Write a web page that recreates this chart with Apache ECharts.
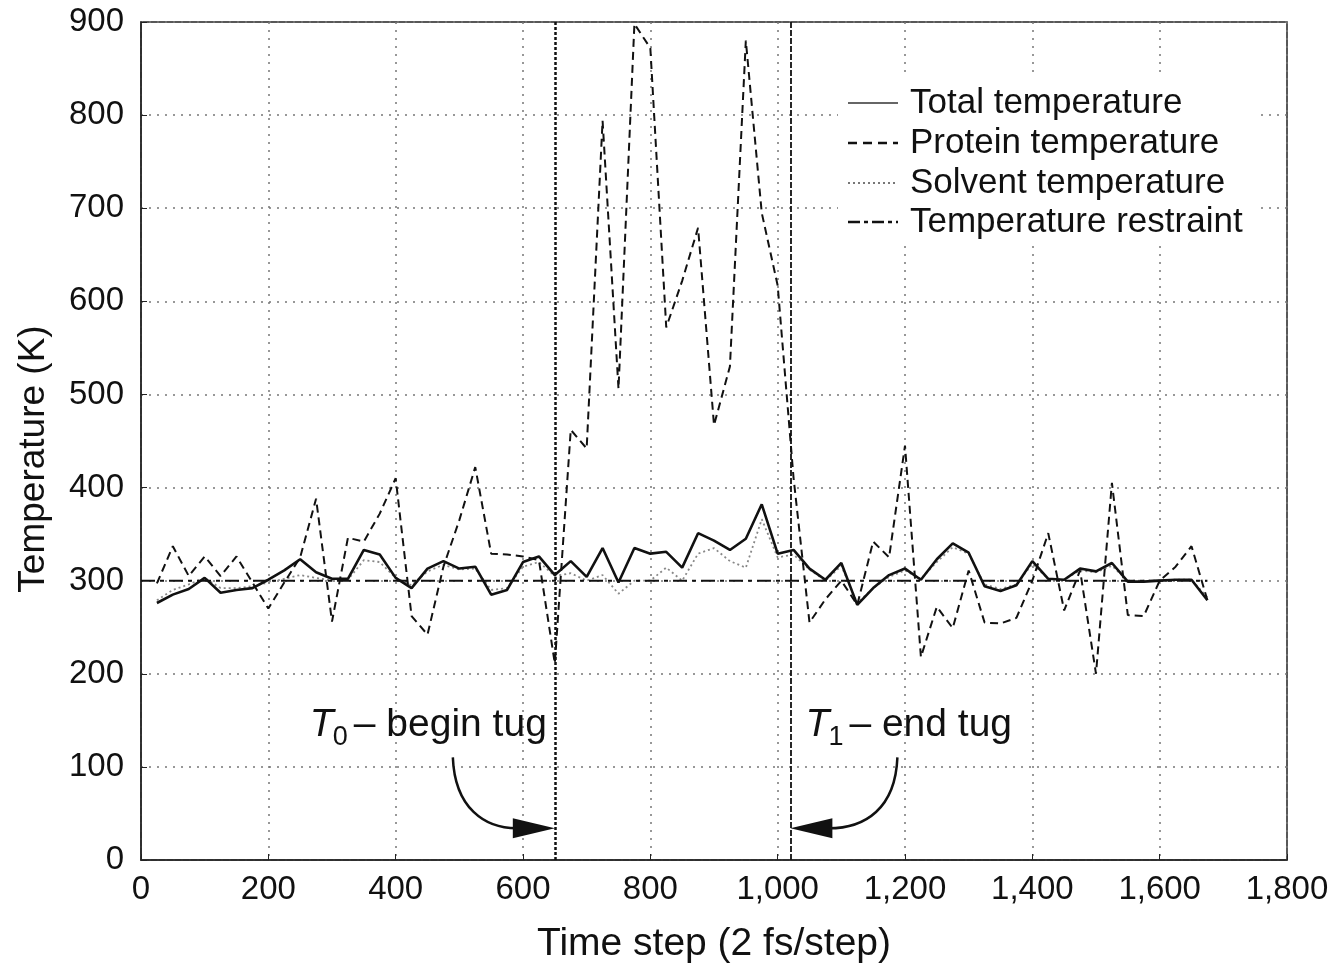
<!DOCTYPE html>
<html><head><meta charset="utf-8">
<script src="https://cdn.jsdelivr.net/npm/echarts@6/dist/echarts.min.js"></script>
<style>html,body{margin:0;padding:0;background:#fff}#c{width:1342px;height:974px}</style>
</head><body><div id="c"></div>
<script>
// ---- data ----
const steps = [25,50,75,100,125,150,175,200,225,250,275,300,325,350,375,400,425,450,475,500,525,550,575,600,625,650,
  675,700,725,750,775,800,825,850,875,900,925,950,975,1000,1025,1050,1075,1100,1125,1150,1175,1200,1225,1250,1275,1300,
  1325,1350,1375,1400,1425,1450,1475,1500,1525,1550,1575,1600,1625,1650,1675];
const totalTemp = [276,285,291,303,287,290,292,301,311,323,309,302,302,333,328,303,292,313,321,313,315,285,290,320,326,306,
  321,304,335,298,335,329,331,314,351,343,333,345,382,329,333,313,301,319,274,292,306,313,301,323,340,330,
  294,289,295,321,302,301,313,310,319,299,299,300,301,301,279];
const proteinTemp = [297,337,305,326,305,326,298,270,298,325,388,256,346,342,372,410,262,242,315,365,422,329,328,326,322,211,
  462,442,794,506,898,872,572,622,679,467,530,880,695,617,410,255,280,300,274,342,325,445,218,272,249,311,
  255,254,260,300,351,268,311,200,405,263,262,300,315,337,279];
const solventTemp = [279,290,296,303,292,292,294,298,302,306,303,300,301,322,320,303,295,310,317,312,313,290,292,315,320,305,
  308,300,306,286,300,300,314,300,329,335,321,314,366,325,328,312,300,316,276,292,304,311,302,320,336,329,
  296,291,296,318,302,301,311,309,316,300,300,300,301,301,282];
const restraintSteps = [0, 1675];
const restraintTemp = [300, 300];
const tugSteps = [650, 1020];
const seriesNames = ['Total temperature','Protein temperature','Solvent temperature','Temperature restraint'];

const pair = (xs, ys) => xs.map((x, i) => [x, ys[i]]);
const FONT = '"Liberation Sans", Arial, Helvetica, sans-serif';
const chart = echarts.init(document.getElementById('c'), null, {renderer: 'canvas'});

const gridLine = {show: true, lineStyle: {color: '#777', width: 1.5, type: [2, 6]}};
const option = {
  animation: false,
  backgroundColor: '#fff',
  textStyle: {fontFamily: FONT, color: '#111'},
  grid: {left: 141, right: 55, top: 22, bottom: 114, show: true, borderColor: '#222', borderWidth: 1.5, containLabel: false},
  xAxis: {
    type: 'value', min: 0, max: 1800, interval: 200,
    name: 'Time step (2 fs/step)', nameLocation: 'middle', nameGap: 65,
    nameTextStyle: {fontFamily: FONT, fontSize: 39, color: '#111'},
    axisLine: {show: true, lineStyle: {color: '#222', width: 1.5}},
    axisTick: {show: true, inside: true, length: 6, lineStyle: {color: '#222'}},
    axisLabel: {fontFamily: FONT, fontSize: 33, color: '#111', margin: 13,
      formatter: v => v.toLocaleString('en-US')},
    splitLine: gridLine
  },
  yAxis: {
    type: 'value', min: 0, max: 900, interval: 100,
    name: 'Temperature (K)', nameLocation: 'middle', nameGap: 89,
    nameTextStyle: {fontFamily: FONT, fontSize: 37, color: '#111', padding: [0, 36, 0, 0]},
    axisLine: {show: true, lineStyle: {color: '#222', width: 1.5}},
    axisTick: {show: true, inside: true, length: 6, lineStyle: {color: '#222'}},
    axisLabel: {fontFamily: FONT, fontSize: 33, color: '#111', margin: 17},
    splitLine: gridLine
  },
  series: [
    {name: seriesNames[2], type: 'line', data: pair(steps, solventTemp), showSymbol: false, z: 3,
      lineStyle: {color: '#888', width: 1.8, type: [2, 3]}},
    {name: seriesNames[3], type: 'line', data: pair(restraintSteps, restraintTemp), showSymbol: false, z: 3,
      lineStyle: {color: '#111', width: 2, type: [14, 5, 4, 5]}},
    {name: seriesNames[1], type: 'line', data: pair(steps, proteinTemp), showSymbol: false, z: 4,
      lineStyle: {color: '#111', width: 2, type: [8, 5]}},
    {name: seriesNames[0], type: 'line', data: pair(steps, totalTemp), showSymbol: false, z: 5,
      lineStyle: {color: '#111', width: 2.6, type: 'solid'},
      markLine: {silent: true, symbol: ['none', 'none'], label: {show: false},
        data: [
          {xAxis: tugSteps[0], lineStyle: {color: '#111', width: 2.5, type: [3, 2]}},
          {xAxis: tugSteps[1], lineStyle: {color: '#111', width: 1.8, type: [6, 2]}}
        ]}}
  ]
};
chart.setOption(option);

// ---- legend & annotations (graphic) ----
const legendStyles = [
  {stroke: '#333', lineWidth: 1.5, lineDash: null},
  {stroke: '#111', lineWidth: 2.5, lineDash: [9, 6]},
  {stroke: '#777', lineWidth: 1.8, lineDash: [2, 3]},
  {stroke: '#111', lineWidth: 2.5, lineDash: [12, 4, 4, 4]}
];
const legendRows = [103, 143, 183, 222];
const g = [];
g.push({type: 'rect', shape: {x: 838, y: 78, width: 420, height: 166}, style: {fill: '#fff'}, z: 50, silent: true});
seriesNames.forEach((n, i) => {
  g.push({type: 'line', shape: {x1: 848, y1: legendRows[i], x2: 898, y2: legendRows[i]}, style: Object.assign({}, legendStyles[i]), z: 51});
  g.push({type: 'text', x: 910, y: legendRows[i], style: {text: n, font: '35px ' + FONT, fill: '#111', textVerticalAlign: 'middle'}, z: 51});
});

const tip0 = chart.convertToPixel({gridIndex: 0}, [tugSteps[0], 34]);
const tip1 = chart.convertToPixel({gridIndex: 0}, [tugSteps[1], 34]);
const annFont = 39;
function addLabel(xLeft, yMid, sub, rest) {
  g.push({type: 'text', x: xLeft, y: yMid, style: {text: 'T', font: 'italic ' + annFont + 'px ' + FONT, fill: '#111', textVerticalAlign: 'middle'}, z: 52});
  g.push({type: 'text', x: xLeft + 23, y: yMid + 12, style: {text: sub, font: '27px ' + FONT, fill: '#111', textVerticalAlign: 'middle'}, z: 52});
  g.push({type: 'text', x: xLeft + 44, y: yMid, style: {text: rest, font: annFont + 'px ' + FONT, fill: '#111', textVerticalAlign: 'middle'}, z: 52});
}
addLabel(tip0[0] - 245, tip0[1] - 103, '0', '\u2013 begin tug');
addLabel(tip1[0] + 15, tip1[1] - 103, '1', '\u2013 end tug');

// curved arrows
g.push({type: 'bezierCurve', shape: {x1: tip0[0] - 102, y1: tip0[1] - 71, cpx1: tip0[0] - 100, cpy1: tip0[1] - 20, cpx2: tip0[0] - 70, cpy2: tip0[1], x2: tip0[0] - 38, y2: tip0[1]}, style: {stroke: '#111', lineWidth: 2.5, fill: null}, z: 52});
g.push({type: 'polygon', shape: {points: [[tip0[0] - 42, tip0[1] - 10], [tip0[0], tip0[1]], [tip0[0] - 42, tip0[1] + 10]]}, style: {fill: '#111'}, z: 52});
g.push({type: 'bezierCurve', shape: {x1: tip1[0] + 107, y1: tip1[1] - 71, cpx1: tip1[0] + 105, cpy1: tip1[1] - 20, cpx2: tip1[0] + 75, cpy2: tip1[1], x2: tip1[0] + 38, y2: tip1[1]}, style: {stroke: '#111', lineWidth: 2.5, fill: null}, z: 52});
g.push({type: 'polygon', shape: {points: [[tip1[0] + 42, tip1[1] - 10], [tip1[0], tip1[1]], [tip1[0] + 42, tip1[1] + 10]]}, style: {fill: '#111'}, z: 52});

chart.setOption({graphic: g});
</script></body></html>
